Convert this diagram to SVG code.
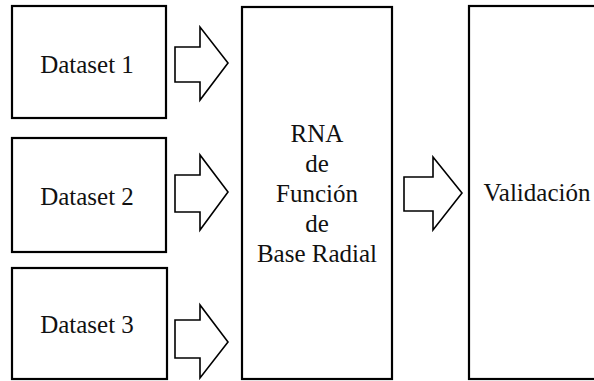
<svg xmlns="http://www.w3.org/2000/svg" width="594" height="381" viewBox="0 0 594 381">
<style>
.box{fill:#fff;stroke:#000;stroke-width:2.2}
.arr{fill:#fff;stroke:#000;stroke-width:1.6;stroke-linejoin:miter}
text{font-family:"Liberation Serif","Times New Roman",serif;font-size:25px;fill:#111;text-anchor:middle}
</style>
<rect width="594" height="381" fill="#fff"/>
<g id="dataset1"><rect class="box" x="12" y="6" width="154" height="112"/><text x="87" y="73">Dataset 1</text></g>
<g id="dataset2"><rect class="box" x="12" y="138" width="154" height="114"/><text x="87" y="205">Dataset 2</text></g>
<g id="dataset3"><rect class="box" x="12" y="268" width="155" height="111"/><text x="87" y="333">Dataset 3</text></g>
<g id="rna"><rect class="box" x="242" y="7" width="150" height="372"/>
<text x="317" y="142">RNA</text><text x="317" y="172">de</text><text x="317" y="202">Función</text><text x="317" y="232">de</text><text x="317" y="262">Base Radial</text></g>
<g id="validacion"><rect class="box" x="469" y="6" width="140" height="373"/><text x="537" y="201">Validación</text></g>
<g id="connectors">
<polygon class="arr" points="175,47 200,47 200,27 228,63 200,100 200,82 175,82"/>
<polygon class="arr" points="175,175 200,175 200,155 228,192 200,230 200,212 175,212"/>
<polygon class="arr" points="175,320 200,320 200,305 228,342 200,378 200,358 175,358"/>
<polygon class="arr" points="404,177 433,177 433,157 462,193 433,230 433,211 404,211"/>
</g>
</svg>
